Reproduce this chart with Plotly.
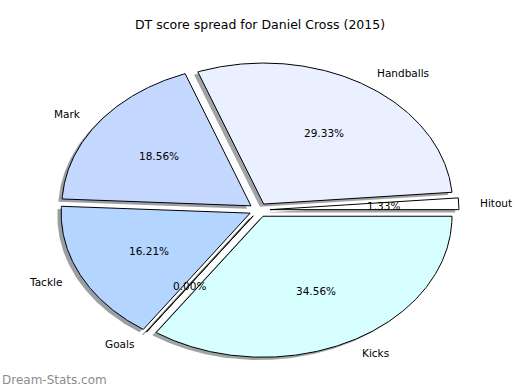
import math
import plotly.graph_objects as go

# ---- data ----
labels = ["Hitout", "Handballs", "Mark", "Tackle", "Goals", "Kicks"]
values = [1.33, 29.33, 18.56, 16.21, 0.00, 34.56]
title_text = "DT score spread for Daniel Cross (2015)"
watermark = "Dream-Stats.com"

# ---- styles ----
colors = ["#FFFFFF", "#EAF0FF", "#C4D8FF", "#B4D5FF", "#D4F4FF", "#D8FFFF"]
explode = [0.06, 0.05, 0.05, 0.05, 0.05, 0.05]
W, H = 520, 390
CX, CY = 258.6, 210.0      # pixel position of pie centre
RX, RY = 189.0, 141.0      # pixels per unit radius (elliptical, as in reference)
FONT = "DejaVu Sans"

x_range = [(0 - CX) / RX, (W - CX) / RX]
y_range = [-(H - CY) / RY, CY / RY]

total = sum(values)
fig = go.Figure()

wedges = []
theta = 0.0
for lab, v, col, ex in zip(labels, values, colors, explode):
    span = 360.0 * v / total
    t1, t2 = theta, theta + span
    tm = math.radians((t1 + t2) / 2)
    ox, oy = ex * math.cos(tm), ex * math.sin(tm)
    n = max(2, int(span * 2) + 2)
    xs, ys = [ox], [oy]
    for i in range(n + 1):
        a = math.radians(t1 + (t2 - t1) * i / n)
        xs.append(ox + math.cos(a))
        ys.append(oy + math.sin(a))
    xs.append(ox)
    ys.append(oy)
    wedges.append((lab, v, col, xs, ys, tm, ox, oy))
    theta = t2

def shade(hexcol):
    r = int(hexcol[1:3], 16); g = int(hexcol[3:5], 16); b = int(hexcol[5:7], 16)
    return "rgba(%d,%d,%d,0.5)" % (int(r * 0.3), int(g * 0.3), int(b * 0.3))

# shadows first
for lab, v, col, xs, ys, tm, ox, oy in wedges:
    fig.add_trace(go.Scatter(
        x=[x - 0.02 for x in xs], y=[y - 0.02 for y in ys],
        mode="lines", fill="toself", fillcolor=shade(col),
        line=dict(color=shade(col), width=1 if v == 0 else 0),
        hoverinfo="skip", showlegend=False))

for lab, v, col, xs, ys, tm, ox, oy in wedges:
    fig.add_trace(go.Scatter(
        x=xs, y=ys, mode="lines", fill="toself", fillcolor=col,
        line=dict(color="black", width=1),
        hoverinfo="skip", showlegend=False))

annotations = []
for lab, v, col, xs, ys, tm, ox, oy in wedges:
    c, s = math.cos(tm), math.sin(tm)
    annotations.append(dict(
        x=ox + 1.1 * c, y=oy + 1.1 * s, xref="x", yref="y",
        text=lab, showarrow=False,
        xanchor="left" if c > 0 else "right", yanchor="middle",
        font=dict(family=FONT, size=10.5, color="black")))
    annotations.append(dict(
        x=ox + 0.6 * c, y=oy + 0.6 * s, xref="x", yref="y",
        text="%.2f%%" % (100.0 * v / total), showarrow=False,
        xanchor="center", yanchor="middle",
        font=dict(family=FONT, size=10.5, color="black")))

annotations.append(dict(
    x=0, y=1 - 380 / H, xref="paper", yref="paper", text=watermark,
    showarrow=False, xanchor="left", yanchor="middle",
    font=dict(family=FONT, size=12, color="#8c8c8c")))

fig.update_layout(
    width=W, height=H,
    margin=dict(l=0, r=0, t=0, b=0),
    paper_bgcolor="white", plot_bgcolor="white",
    showlegend=False,
    title=dict(text=title_text, x=260 / W, xref="paper", xanchor="center",
               y=1 - 25 / H, yref="container", yanchor="middle",
               font=dict(family=FONT, size=12.5, color="black")),
    xaxis=dict(range=x_range, visible=False, fixedrange=True),
    yaxis=dict(range=y_range, visible=False, fixedrange=True),
    annotations=annotations,
)

fig.write_html(
    "out.html",
    config={"displayModeBar": False, "staticPlot": True},
    post_script="document.body.style.margin='0';document.body.style.overflow='hidden';",
)
